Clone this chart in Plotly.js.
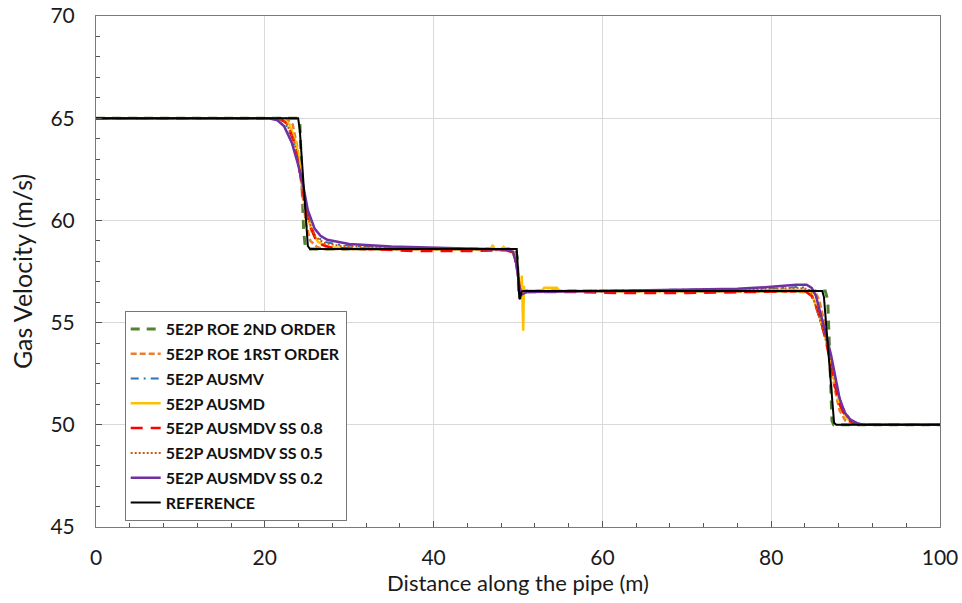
<!DOCTYPE html>
<html>
<head>
<meta charset="utf-8">
<script src="https://cdn.plot.ly/plotly-3.0.1.min.js"></script>
<style>html,body{margin:0;padding:0;background:#fff;}#chart{width:962px;height:603px;}</style>
</head>
<body>
<div id="chart"></div>
<script>
// ---- Data ----
const seriesNames = ["5E2P ROE 2ND ORDER","5E2P ROE 1RST ORDER","5E2P AUSMV","5E2P AUSMD","5E2P AUSMDV SS 0.8","5E2P AUSMDV SS 0.5","5E2P AUSMDV SS 0.2","REFERENCE"];

const xRoe2 = [0,23.9,24.15,24.35,24.6,24.8,25.0,49.7,49.9,50.1,50.3,50.6,86.4,86.7,86.85,87.05,87.2,87.4,100];
const yRoe2 = [65,65,64.8,62.5,59.5,58.7,58.6,58.6,58.2,56.4,56.3,56.55,56.55,56.1,54,51.5,50.2,50,50];

const xRoe1 = [0,22.5,23.3,23.9,24.4,24.9,25.4,26.2,27,49.3,49.7,50.0,50.3,50.6,51,85.2,85.7,86.3,86.9,87.5,88.1,88.8,89.5,90.5,100];
const yRoe1 = [65,65,64.7,63.5,61.5,59.8,59,58.7,58.6,58.55,58.3,57.4,56.4,56.45,56.55,56.5,56.1,55,53.5,51.8,50.7,50.2,50.05,50,50];

const xAusmv = [0,21.5,22.4,23.3,24.0,24.6,25.2,25.9,27,29,33,40,48.8,49.4,49.8,50.1,50.4,50.8,55,70,80,83.5,84.4,85,85.7,86.5,87.2,87.8,88.4,89,89.8,90.8,100];
const yAusmv = [65,65,64.8,64.0,62.7,61.2,60,59.3,58.95,58.8,58.7,58.62,58.58,58.45,57.9,56.9,56.4,56.5,56.55,56.6,56.65,56.75,56.65,56.2,55.2,54.1,52.9,51.7,50.9,50.45,50.15,50,50];

const xAusmd = [0,22,22.9,23.7,24.3,24.9,25.5,26.3,27.5,30,40,46.8,47.0,47.2,48.1,48.3,48.5,49.3,49.8,50.1,50.3,50.45,50.55,50.62,50.7,50.8,51.2,52.8,53.1,54.6,54.9,70,84,84.8,85.5,86.3,87,87.6,88.2,88.9,89.7,90.6,100];
const yAusmd = [65,65,64.7,63.8,62.3,60.6,59.5,58.95,58.7,58.62,58.6,58.6,58.8,58.6,58.6,58.7,58.6,58.5,58.0,57.0,56.3,57.3,56.2,54.6,56.8,56.45,56.55,56.55,56.7,56.7,56.55,56.55,56.6,56.4,55.6,54.5,53.2,51.9,50.9,50.35,50.1,50,50];

const xSs08 = [0,21.8,22.7,23.5,24.1,24.7,25.3,26,26.8,28,32,38,44,48.5,49.3,49.8,50.1,50.4,50.8,56,62,70,78,84,84.8,85.5,86.2,86.9,87.5,88.1,88.8,89.6,90.5,100];
const ySs08 = [65,65,64.7,63.8,62.5,61,59.8,59.1,58.8,58.65,58.6,58.5,58.5,58.55,58.45,57.9,56.9,56.35,56.5,56.5,56.45,56.45,56.5,56.55,56.3,55.6,54.6,53.3,52,51,50.4,50.1,50,50];

const xSs05 = [0,21.5,22.5,23.4,24.1,24.7,25.3,26,27,29,35,45,49,49.5,49.9,50.2,50.5,51,60,75,83,84.2,84.9,85.6,86.4,87.1,87.7,88.3,89,89.8,90.8,100];
const ySs05 = [65,65,64.8,64,62.6,61.1,59.9,59.2,58.9,58.75,58.65,58.6,58.55,58.4,57.8,56.8,56.4,56.5,56.55,56.6,56.7,56.65,56.3,55.4,54.3,53.1,51.9,51,50.4,50.1,50,50];

const xSs02 = [0,20.5,21.5,22.3,23.2,23.9,24.5,25.1,25.9,26.6,27.4,30,35,40,46,48.8,49.4,49.8,50.1,50.3,50.6,51,60,70,76,80,83,84.2,84.8,85.3,85.9,86.5,87.1,87.6,88.1,88.7,89.4,90.2,91,100];
const ySs02 = [65,65,64.9,64.6,63.8,62.8,61.8,60.5,59.6,59.25,59.05,58.85,58.72,58.65,58.6,58.58,58.45,57.9,57.0,56.35,56.4,56.5,56.55,56.6,56.65,56.75,56.85,56.85,56.7,56.3,55.4,54.4,53.4,52.3,51.3,50.6,50.25,50.07,50,50];

const xRef = [0,23.95,24.15,25.1,25.35,49.85,50.0,50.15,50.25,50.4,50.6,86.05,86.25,87.45,87.7,100];
const yRef = [65,65,64.4,58.75,58.6,58.6,57.6,56.2,56.15,56.5,56.55,56.55,56.25,50.1,50,50];

const xTickVals = [0,20,40,60,80,100];
const yTickVals = [45,50,55,60,65,70];

// ---- Styles ----
const styles = [
  {color:"#548235", width:3,   dash:"9px,7px"},
  {color:"#ED7D31", width:2.5, dash:"6px,3px"},
  {color:"#2E75B6", width:2,   dash:"8px,5px,2px,5px"},
  {color:"#FFC000", width:2.5, dash:"solid"},
  {color:"#FF0000", width:2.5, dash:"12px,8px"},
  {color:"#C55A11", width:2,   dash:"2px,2px"},
  {color:"#7030A0", width:2.5, dash:"solid"},
  {color:"#000000", width:2,   dash:"solid"}
];
const xs = [xRoe2,xRoe1,xAusmv,xAusmd,xSs08,xSs05,xSs02,xRef];
const ys = [yRoe2,yRoe1,yAusmv,yAusmd,ySs08,ySs05,ySs02,yRef];

const traces = seriesNames.map((n,i)=>({
  type:"scatter", mode:"lines", name:n, x:xs[i], y:ys[i],
  legendgroup:"g"+i,
  line:{color:styles[i].color, width:styles[i].width, dash:styles[i].dash, shape:"linear"}
}));

const font = "Lato, 'Open Sans', sans-serif";
const axisCommon = {
  showline:true, linecolor:"#7a7a7a", linewidth:1, mirror:true,
  showgrid:true, gridcolor:"#d9d9d9", gridwidth:1, zeroline:false,
  ticks:"inside", ticklen:6, tickcolor:"#555", tickwidth:1,
  tickfont:{family:font, size:21, color:"#1a1a1a"}
};

const layout = {
  width:962, height:603,
  margin:{l:96, r:22, t:16, b:76},
  paper_bgcolor:"#fff", plot_bgcolor:"#fff",
  showlegend:true,
  legend:{x:0.034, y:0.4227, xanchor:"left", yanchor:"top",
    bgcolor:"#fff", bordercolor:"#777", borderwidth:1,
    font:{family:font, size:16, color:"#111", weight:"bold"},
    tracegroupgap:1, itemwidth:30},
  xaxis:Object.assign({}, axisCommon, {
    range:[0,100], tickvals:xTickVals, ticktext:xTickVals.map(String),
    minor:{dtick:4, tick0:0, ticks:"inside", ticklen:4, tickcolor:"#555", showgrid:false},
    ticklabelstandoff:12,
    title:{text:"Distance along the pipe (m)", font:{family:font, size:22, color:"#1a1a1a"}, standoff:6}
  }),
  yaxis:Object.assign({}, axisCommon, {
    range:[45,70], tickvals:yTickVals, ticktext:yTickVals.map(String),
    minor:{dtick:1, tick0:45, ticks:"inside", ticklen:4, tickcolor:"#555", showgrid:false},
    ticklabelstandoff:16,
    title:{text:"Gas Velocity (m/s)", font:{family:font, size:25, color:"#1a1a1a"}, standoff:10}
  })
};

Plotly.newPlot("chart", traces, layout, {displayModeBar:false, staticPlot:true});
</script>
</body>
</html>
